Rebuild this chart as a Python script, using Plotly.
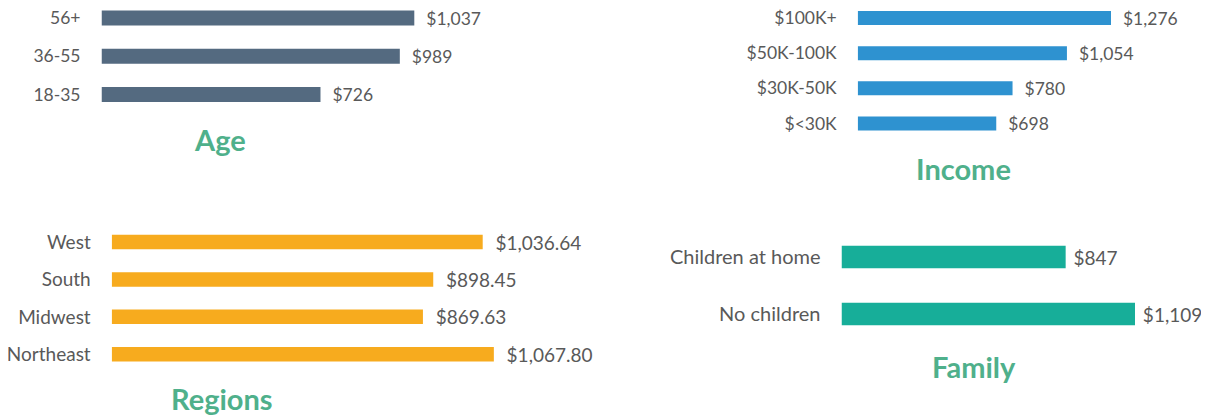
import plotly.graph_objects as go

# ---- data ----
age_labels = ["18-35", "36-55", "56+"]
age_values = [726, 989, 1037]

income_labels = ["$<30K", "$30K-50K", "$50K-100K", "$100K+"]
income_values = [698, 780, 1054, 1276]

region_labels = ["Northeast", "Midwest", "South", "West"]
region_values = [1067.80, 869.63, 898.45, 1036.64]

family_labels = ["No children", "Children at home"]
family_values = [1109, 847]

OFF = 8                      # page body margin
W, H = 1209 - OFF, 416 - OFF
FONT = "Lato"
TXT = "#595959"
TITLE_C = "#4fb08b"

fig = go.Figure()

# (labels, values, color, decimals, bar x0 px, px per unit, centers px bottom->top, thickness px,
#  axis idx, title, title xy, label font size, value font size, pad)
panels = [
    (age_labels, age_values, "#546a80", 0, 101.5, 312.8 / 1037, [94.5, 56, 18], 15, 1, "Age", (220, 141), 17.5, 17.5, "\u00a0\u00a0"),
    (income_labels, income_values, "#2e92d0", 0, 857.7, 253.3 / 1276, [123.5, 88.5, 53.3, 18], 14, 2, "Income", (963, 169.5), 17.5, 17.5, "\u00a0\u00a0"),
    (region_labels, region_values, "#f7ab1e", 2, 111.7, 371 / 1036.64, [354.3, 316.7, 280, 242], 14.5, 3, "Regions", (221.5, 399), 19, 19, "\u00a0\u00a0"),
    (family_labels, family_values, "#17ae99", 0, 841.5, 293.5 / 1109, [314, 257], 22.5, 4, "Family", (973.5, 367), 20, 19, "\u00a0"),
]

layout = dict(
    width=W, height=H, margin=dict(l=0, r=0, t=0, b=0),
    paper_bgcolor="white", plot_bgcolor="white", showlegend=False,
    font=dict(family=FONT, color=TXT, size=17),
)
annotations = []

for labels, values, color, dec, x0, ppu, centers, thick, i, title, (tx, ty), fs, vfs, pad in panels:
    xa = "x" if i == 1 else f"x{i}"
    ya = "y" if i == 1 else f"y{i}"
    n = len(labels)
    c = [p - OFF for p in centers]
    x0f = x0 - OFF
    spacing = (c[0] - c[-1]) / (n - 1)
    top_px = max(0, c[-1] - spacing * 0.6)
    bot_px = c[0] + spacing * 0.6
    r0 = (c[0] - bot_px) / spacing
    r1 = (c[0] - top_px) / spacing
    span_px = min(420, W - x0f)
    texts = [pad + "$" + format(v, f",.{dec}f") for v in values]
    fig.add_trace(go.Bar(
        x=values, y=list(range(n)), orientation="h",
        marker=dict(color=color, line=dict(width=0)),
        width=thick / spacing,
        text=texts, texttemplate="%{text}", textposition="outside", cliponaxis=False,
        constraintext="none",
        textfont=dict(family=FONT, color=TXT, size=vfs),
        xaxis=xa, yaxis=ya, hoverinfo="skip",
    ))
    xkey = "xaxis" if i == 1 else f"xaxis{i}"
    ykey = "yaxis" if i == 1 else f"yaxis{i}"
    layout[xkey] = dict(domain=[x0f / W, (x0f + span_px) / W], range=[0, span_px / ppu],
                        visible=False, anchor=ya, fixedrange=True)
    layout[ykey] = dict(domain=[1 - bot_px / H, 1 - top_px / H], range=[r0, r1],
                        tickvals=list(range(n)), ticktext=labels, showgrid=False,
                        zeroline=False, showline=False, ticks="", ticklabelstandoff=20,
                        ticklabeloverflow="allow",
                        anchor=xa, tickfont=dict(family=FONT, color=TXT, size=fs))
    annotations.append(dict(text=f"<b>{title}</b>", x=(tx - OFF) / W, y=1 - (ty - OFF - 1) / H,
                            xref="paper", yref="paper",
                            showarrow=False, xanchor="center", yanchor="middle",
                            font=dict(family=FONT, color=TITLE_C, size=29)))

layout["annotations"] = annotations
fig.update_layout(**layout)
fig.write_html("out.html")
